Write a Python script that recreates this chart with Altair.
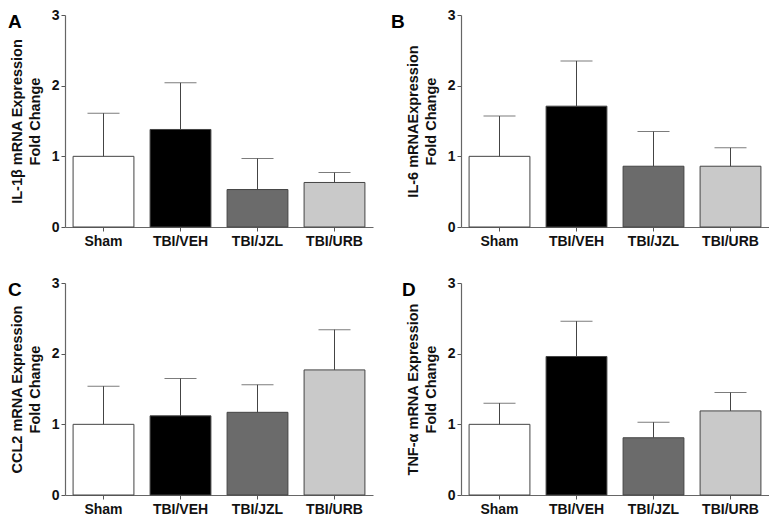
import altair as alt
import pandas as pd

groups = ["Sham", "TBI/VEH", "TBI/JZL", "TBI/URB"]
bar_colors = ["#ffffff", "#000000", "#6b6b6b", "#c9c9c9"]

a_mean = [1.00, 1.38, 0.53, 0.63]
a_sem = [0.61, 0.66, 0.44, 0.14]
b_mean = [1.00, 1.71, 0.86, 0.86]
b_sem = [0.57, 0.64, 0.49, 0.26]
c_mean = [1.00, 1.12, 1.17, 1.77]
c_sem = [0.54, 0.53, 0.39, 0.57]
d_mean = [1.00, 1.96, 0.81, 1.19]
d_sem = [0.30, 0.50, 0.22, 0.26]

panel_letters = ["A", "B", "C", "D"]
panel_titles = [
    ["IL-1\u03b2 mRNA Expression", "Fold Change"],
    ["IL-6 mRNAExpression", "Fold Change"],
    ["CCL2 mRNA Expression", "Fold Change"],
    ["TNF-\u03b1 mRNA Expression", "Fold Change"],
]
y_ticks = [0, 1, 2, 3]

FONT = "Liberation Sans"
W, H = 308, 212


def panel(letter, title, means, sems, letter_dx):
    df = pd.DataFrame({"group": groups, "mean": means, "sem": sems})
    df["upper"] = df["mean"] + df["sem"]
    x = alt.X(
        "group:N",
        sort=groups,
        scale=alt.Scale(paddingInner=0.21, paddingOuter=0.105),
        axis=alt.Axis(
            title=None, labelAngle=0, labelFont=FONT, labelFontWeight="bold",
            labelFontSize=14, labelColor="#111", tickSize=4, tickColor="#555",
            domainColor="#666", domainWidth=1.2, labelPadding=3,
        ),
    )
    yscale = alt.Scale(domain=[0, 3], nice=False)
    bars = alt.Chart(df).mark_bar(stroke="#444", strokeWidth=1).encode(
        x=x,
        y=alt.Y(
            "mean:Q", scale=yscale,
            axis=alt.Axis(
                title=title, values=y_ticks, format="d", grid=False,
                labelFont=FONT, labelFontWeight="bold", labelFontSize=14,
                labelColor="#111", tickSize=4, tickColor="#555",
                domainColor="#666", domainWidth=1.2, labelPadding=2,
                titleFont=FONT, titleFontWeight="bold", titleFontSize=14.5,
                titleColor="#111", titleLineHeight=18, titlePadding=9,
            ),
        ),
        fill=alt.Fill("group:N", sort=groups,
                      scale=alt.Scale(domain=groups, range=bar_colors), legend=None),
    )
    err = alt.Chart(df).mark_rule(color="#444", strokeWidth=1).encode(
        x=alt.X("group:N", sort=groups), y=alt.Y("mean:Q", scale=yscale), y2="upper:Q"
    )
    cap = alt.Chart(df).mark_tick(color="#444", thickness=1, size=32).encode(
        x=alt.X("group:N", sort=groups), y=alt.Y("upper:Q", scale=yscale)
    )
    lab = alt.Chart(pd.DataFrame({"t": [letter]})).mark_text(
        font=FONT, fontWeight="bold", fontSize=19, align="left", baseline="top",
        color="#000",
    ).encode(x=alt.value(letter_dx), y=alt.value(-2), text="t:N")
    return alt.layer(bars, err, cap, lab).properties(width=W, height=H)


pA = panel("A", panel_titles[0], a_mean, a_sem, -57)
pB = panel("B", panel_titles[1], b_mean, b_sem, -70)
pC = panel("C", panel_titles[2], c_mean, c_sem, -57)
pD = panel("D", panel_titles[3], d_mean, d_sem, -59)

row1 = alt.hconcat(pA, pB, spacing=18)
row2 = alt.hconcat(pC, pD, spacing=29)
chart = alt.vconcat(row1, row2, spacing=28).properties(padding=0).configure_view(
    stroke=None
).configure_axis(grid=False)

chart.save("out.html", embed_options={"renderer": "svg", "actions": False})
